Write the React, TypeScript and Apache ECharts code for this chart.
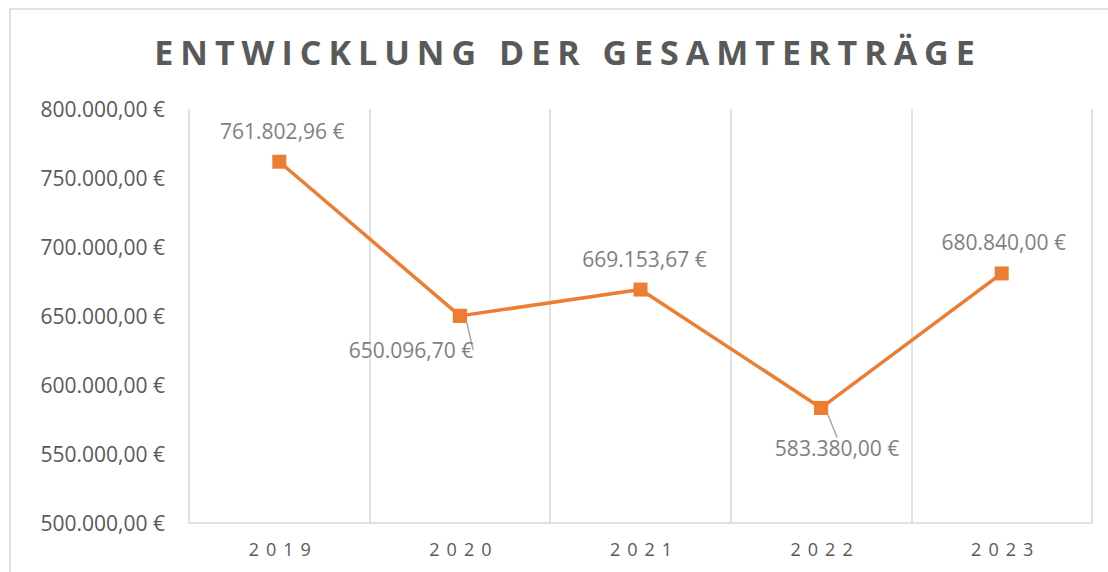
import React, { useEffect, useRef } from "react";
import * as echarts from "echarts";

const titleText = "ENTWICKLUNG DER GESAMTERTRÄGE";
const years = ["2019", "2020", "2021", "2022", "2023"];
const ertraege = [761802.96, 650096.7, 669153.67, 583380.0, 680840.0];
const belowLabelIdx = [1, 3];
const yMin = 500000;
const yMax = 800000;
const yStep = 50000;

const fmt = (v: number) =>
  v.toLocaleString("de-DE", { minimumFractionDigits: 2, maximumFractionDigits: 2 }) + " €";

export default function App() {
  const ref = useRef<HTMLDivElement>(null);
  useEffect(() => {
    document.body.style.margin = "0";
    const chart = echarts.init(ref.current!, undefined, { renderer: "svg" });
    const labelOffsets: Record<number, [number, number]> = {
      0: [3, -31],
      1: [-49, 34],
      2: [4, -31],
      3: [16, 40],
      4: [2, -31],
    };
    const labelBase = {
      show: true,
      position: "inside",
      color: "#7f7f7f",
      fontFamily: "Open Sans",
      fontSize: 21,
      formatter: (p: any) => fmt(p.value),
    };
    const layout = (p: any) => {
      const o = labelOffsets[p.dataIndex] || [0, 0];
      return { dx: o[0], dy: o[1] };
    };
    chart.setOption({
      animation: false,
      backgroundColor: "#ffffff",
      title: {
        text: titleText,
        left: "center",
        top: 30,
        textStyle: {
          fontFamily: "Open Sans",
          fontWeight: "bold",
          fontSize: 34,
          color: "#595959",
        },
      },
      graphic: [
        {
          type: "rect",
          shape: { x: 10, y: 9, width: 1120, height: 600 },
          style: { fill: "none", stroke: "#d9d9d9", lineWidth: 1.5 },
          silent: true,
        },
      ],
      grid: { left: 189, right: 16, top: 109, bottom: 49 },
      xAxis: {
        type: "category",
        data: years,
        boundaryGap: true,
        axisLine: { show: true, lineStyle: { color: "#d9d9d9", width: 1.5 } },
        axisTick: { show: false },
        splitLine: { show: true, lineStyle: { color: "#d9d9d9", width: 1.5 } },
        axisLabel: {
          color: "#595959",
          fontFamily: "Open Sans",
          fontSize: 18,
          margin: 17,
        },
      },
      yAxis: {
        type: "value",
        min: yMin,
        max: yMax,
        interval: yStep,
        axisLine: { show: false },
        axisTick: { show: false },
        splitLine: { show: false },
        axisLabel: {
          color: "#595959",
          fontFamily: "Open Sans",
          fontSize: 21,
          margin: 24,
          formatter: (v: number) => fmt(v),
        },
      },
      series: [
        {
          type: "line",
          data: ertraege.map((v, i) =>
            belowLabelIdx.includes(i) ? { value: v, label: { show: false } } : v
          ),
          symbol: "rect",
          symbolSize: 14,
          lineStyle: { color: "#ED7D31", width: 3.5 },
          itemStyle: { color: "#ED7D31" },
          label: labelBase,
          labelLayout: layout,
          z: 3,
        },
        {
          type: "line",
          data: ertraege.map((v, i) => (belowLabelIdx.includes(i) ? v : "-")),
          symbol: "rect",
          symbolSize: 14,
          showAllSymbol: true,
          connectNulls: false,
          lineStyle: { width: 0, opacity: 0 },
          itemStyle: { color: "#ED7D31" },
          label: labelBase,
          labelLayout: layout,
          labelLine: { show: true, lineStyle: { color: "#a6a6a6", width: 1.5 } },
          z: 2,
        },
      ],
    });
    const spaceText = () => {
      const root = ref.current;
      if (!root) return;
      root.querySelectorAll("text").forEach((t) => {
        const s = (t.textContent || "").trim();
        if (s === titleText) {
          t.setAttribute("letter-spacing", "7");
          t.setAttribute("dx", "14");
        } else if (years.includes(s)) {
          t.setAttribute("letter-spacing", "7");
          t.setAttribute("dx", "4");
        }
      });
    };
    spaceText();
    chart.on("finished", spaceText);
    const raf = requestAnimationFrame(spaceText);
    return () => {
      cancelAnimationFrame(raf);
      chart.dispose();
    };
  }, []);
  return <div ref={ref} style={{ width: 1108, height: 572 }} />;
}
